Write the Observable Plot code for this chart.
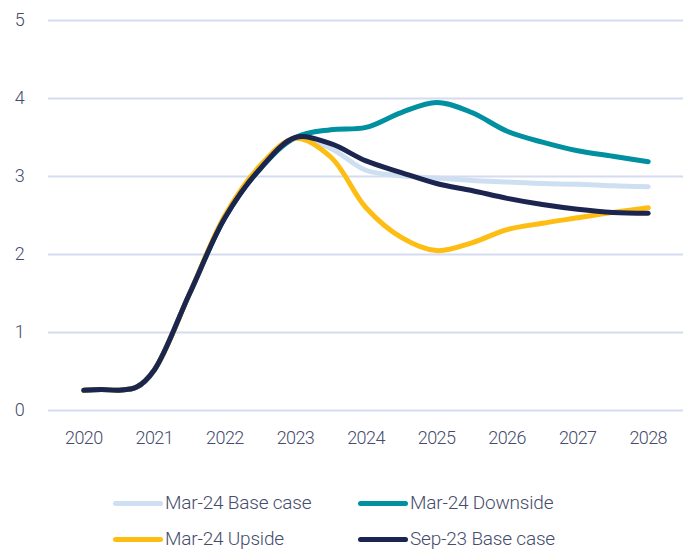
<!DOCTYPE html>
<html>
<head>
<meta charset="utf-8">
<script src="https://cdn.jsdelivr.net/npm/d3@7"></script>
<script src="https://cdn.jsdelivr.net/npm/@observablehq/plot@0.6"></script>
<style>
  body { margin: 0; background: #fff; font-family: Roboto, "Noto Sans", sans-serif; font-weight: 300; overflow: hidden; }
  #chart { width: 694px; height: 460px; }
  .legend { position: relative; width: 694px; height: 89px; color: #454c6c; font-size: 19px; letter-spacing: -0.2px; line-height: 20px; }
  .item { position: absolute; display: flex; align-items: center; height: 20px; }
  .sw { width: 50px; height: 5px; border-radius: 3px; margin-right: 2px; }
</style>
</head>
<body>
<div id="chart"></div>
<script>
const years = [2020, 2020.25, 2020.5, 2020.75, 2021, 2021.5, 2022, 2022.5, 2023, 2023.5, 2024, 2024.5, 2025, 2025.5, 2026, 2026.5, 2027, 2027.5, 2028];
const seriesNames = ["Mar-24 Base case", "Mar-24 Downside", "Mar-24 Upside", "Sep-23 Base case"];
const colors = ["#cfdff2", "#0090a0", "#fdbd13", "#1b2550"];
const mar24Base =     [0.26, 0.27, 0.26, 0.3, 0.52, 1.5, 2.47, 3.1, 3.49, 3.36, 3.08, 3.01, 2.98, 2.95, 2.93, 2.91, 2.9, 2.88, 2.87];
const mar24Downside = [0.26, 0.27, 0.26, 0.3, 0.52, 1.5, 2.47, 3.1, 3.5, 3.6, 3.63, 3.82, 3.95, 3.82, 3.58, 3.44, 3.33, 3.26, 3.19];
const mar24Upside =   [0.26, 0.27, 0.26, 0.3, 0.52, 1.5, 2.5, 3.14, 3.49, 3.25, 2.6, 2.22, 2.05, 2.15, 2.32, 2.4, 2.47, 2.54, 2.6];
const sep23Base =     [0.26, 0.27, 0.26, 0.3, 0.52, 1.5, 2.47, 3.1, 3.5, 3.42, 3.2, 3.05, 2.91, 2.82, 2.72, 2.64, 2.58, 2.54, 2.53];
const yTicks = [0, 1, 2, 3, 4, 5];
const xTicks = [2020, 2021, 2022, 2023, 2024, 2025, 2026, 2027, 2028];

const allSeries = [mar24Base, mar24Downside, mar24Upside, sep23Base];
const data = allSeries.flatMap((vals, i) => vals.map((v, j) => ({ year: years[j], value: v, series: seriesNames[i] })));

const chart = Plot.plot({
  width: 694,
  height: 460,
  marginLeft: 48,
  marginRight: 11,
  marginTop: 20,
  marginBottom: 50,
  style: { fontFamily: "Roboto, 'Noto Sans', sans-serif", fontWeight: 300, fontSize: "18px", color: "#454c6c", letterSpacing: "-0.6px", display: "block" },
  x: { domain: [2019.5, 2028.5], label: null },
  y: { domain: [0, 5], label: null },
  color: { domain: seriesNames, range: colors },
  marks: [
    Plot.ruleY(yTicks, { stroke: "#d6dcf0", strokeWidth: 2 }),
    Plot.line(data, { x: "year", y: "value", z: "series", stroke: "series", strokeWidth: 5, curve: "catmull-rom", strokeLinecap: "round", strokeLinejoin: "round" }),
    Plot.axisX({ ticks: xTicks, tickFormat: d => String(d), tickSize: 0, tickPadding: 21, fontSize: 18, fill: "#454c6c" }),
    Plot.axisY({ ticks: yTicks, tickFormat: d => String(d), tickSize: 0, tickPadding: 24, fontSize: 18, fill: "#454c6c", textAnchor: "middle", dx: -5 })
  ]
});
document.getElementById("chart").appendChild(chart);

const legend = document.createElement("div");
legend.className = "legend";
const pos = [[113, 43], [358, 43], [113, 79], [358, 79]];
seriesNames.forEach((name, i) => {
  const it = document.createElement("div");
  it.className = "item";
  it.style.left = pos[i][0] + "px";
  it.style.top = (pos[i][1] - 10) + "px";
  it.innerHTML = `<div class="sw" style="background:${colors[i]}"></div><span>${name}</span>`;
  legend.appendChild(it);
});
document.body.appendChild(legend);
</script>
</body>
</html>
